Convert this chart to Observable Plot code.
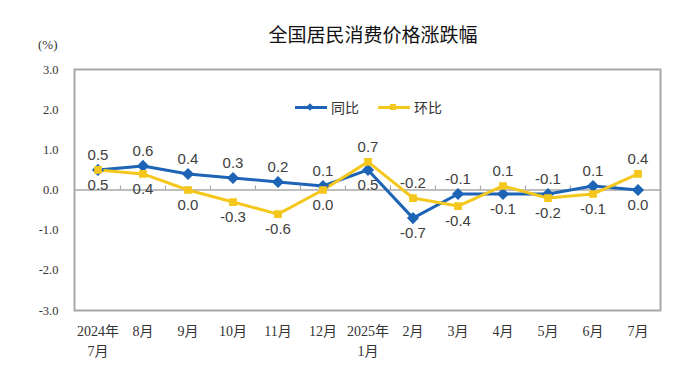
<!DOCTYPE html>
<html><head><meta charset="utf-8">
<script src="https://cdn.jsdelivr.net/npm/d3@7"></script>
<script src="https://cdn.jsdelivr.net/npm/@observablehq/plot@0.6"></script>
<style>
body{margin:0;background:#fff;}
#wrap{position:relative;width:680px;height:369px;overflow:hidden;}
#title{position:absolute;left:0;width:680px;top:20px;text-align:center;padding-left:66px;box-sizing:border-box;font:19px "Noto Sans CJK SC",sans-serif;color:#111;}
#unit{position:absolute;left:38px;top:37px;font:13px "Liberation Serif","Noto Sans CJK SC",serif;color:#333;}
#legend{position:absolute;top:97px;left:295px;font:14px "Noto Sans CJK SC",sans-serif;color:#333;display:flex;align-items:center;}
.sw{display:inline-block;position:relative;width:32px;height:3px;margin-right:4px;}
.mk{position:absolute;left:12px;top:-2px;width:6px;height:6px;}
svg [aria-label="y-axis tick label"] text, svg [aria-label="x-axis tick label"] text{font-family:"Liberation Serif","Noto Sans CJK SC",serif !important;}
</style></head>
<body><div id="wrap"><div id="title">全国居民消费价格涨跌幅</div><div id="unit">(%)</div>
<div id="legend"><span class="sw" style="background:#1d63b6"><span class="mk" style="background:#1d63b6;transform:rotate(45deg) scale(0.9)"></span></span><span style="margin-right:19px">同比</span><span class="sw" style="background:#f4c71d"><span class="mk" style="background:#f4c71d"></span></span><span>环比</span></div>
<div id="chart"></div></div>
<script>
const months = ["2024年\n7月","8月","9月","10月","11月","12月","2025年\n1月","2月","3月","4月","5月","6月","7月"];
const yoy = [0.5,0.6,0.4,0.3,0.2,0.1,0.5,-0.7,-0.1,-0.1,-0.1,0.1,0.0];
const mom = [0.5,0.4,0.0,-0.3,-0.6,0.0,0.7,-0.2,-0.4,0.1,-0.2,-0.1,0.4];
const yTicks = [-3,-2,-1,0,1,2,3];
const seriesNames = ["同比","环比"];
const colors = ["#1d63b6","#f4c71d"];

const yoyRows = months.map((m,i)=>({month:m, value:yoy[i], above: yoy[i] >= mom[i]}));
const momRows = months.map((m,i)=>({month:m, value:mom[i], above: mom[i] > yoy[i]}));
const allRows = [...yoyRows, ...momRows];

const W = 680, H = 369, mL = 74, mR = 20;
const band = (W - mL - mR) / months.length;
const labelFont = '"Liberation Sans",Arial,sans-serif';

const chart = Plot.plot({
  width: W, height: H,
  marginLeft: mL, marginRight: mR, marginTop: 69, marginBottom: 59,
  x: {type:"band", domain: months, padding: 0, label: null},
  y: {domain: [-3,3], label: null},
  style: {background:"transparent", overflow:"visible"},
  marks: [
    Plot.ruleY([0], {stroke:"#a8a8a8", strokeWidth:1.5}),
    Plot.ruleX(months.slice(1), {x: d=>d, y1: 0, y2: 0.1, dx: -band/2, stroke:"#a8a8a8", strokeWidth:1.2}),
    Plot.frame({stroke:"#a8a8a8", strokeWidth:2}),
    Plot.axisY(yTicks, {tickSize: 0, tickPadding: 16, tickFormat: d=>d.toFixed(1), fontSize: 12.5, fill:"#333", label:null}),
    Plot.axisX({tickSize: 0, tickPadding: 11, fontSize: 14, fill:"#333", lineHeight: 1.45, label:null, textAnchor:"middle"}),
    Plot.line(yoyRows, {x:"month", y:"value", stroke: colors[0], strokeWidth: 3}),
    Plot.line(momRows, {x:"month", y:"value", stroke: colors[1], strokeWidth: 3}),
    Plot.dot(yoyRows, {x:"month", y:"value", symbol:"diamond2", r:4.5, fill: colors[0], stroke: colors[0]}),
    Plot.dot(momRows, {x:"month", y:"value", symbol:"square", r:3.5, fill: colors[1], stroke: colors[1]}),
    Plot.text(allRows.filter(d=>d.above), {x:"month", y:"value", text: d=>d.value.toFixed(1), dy:-15, fontSize:15, fontFamily: labelFont, fill:"#404040"}),
    Plot.text(allRows.filter(d=>!d.above), {x:"month", y:"value", text: d=>d.value.toFixed(1), dy:15, fontSize:15, fontFamily: labelFont, fill:"#404040"})
  ]
});
document.getElementById("chart").appendChild(chart);
</script></body></html>
